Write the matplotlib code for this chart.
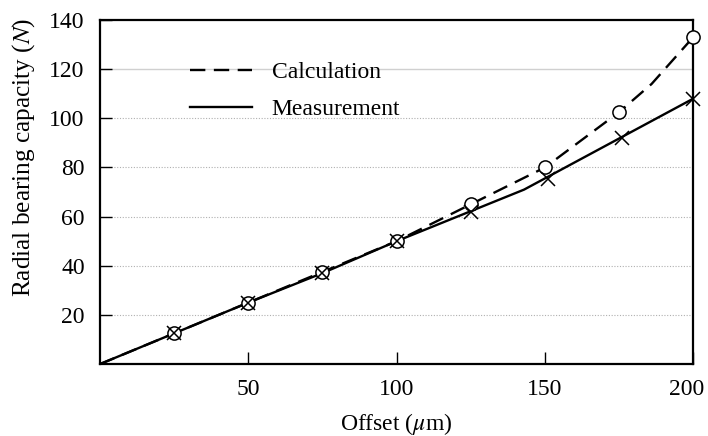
import matplotlib
matplotlib.use("Agg")
import matplotlib.pyplot as plt
import matplotlib.transforms as mtransforms

plt.rcParams['font.family'] = ['Liberation Serif', 'DejaVu Serif']
plt.rcParams['mathtext.fontset'] = 'stix'

# curve data (line traces)
calc_line_x = [0, 25, 50, 75, 100, 125, 150, 175, 186, 200]
calc_line_y = [0, 12.5, 25, 37.5, 50, 65, 80, 102.5, 114, 133]
meas_line_x = [0, 25, 50, 75, 100, 143, 200]
meas_line_y = [0, 12.5, 25, 37, 50, 71, 108]

# marker data
calc_pts_x = [25, 50, 75, 100, 125, 150, 175, 200]
calc_pts_y = [12.5, 25, 37.5, 50, 65, 80, 102.5, 133]
meas_pts_x = [25, 50, 75, 100, 125, 151, 176, 200]
meas_pts_y = [12.5, 25, 37, 50, 62, 75.5, 92, 108]

xticks = [50, 100, 150, 200]
yticks = [20, 40, 60, 80, 100, 120, 140]

fig = plt.figure(figsize=(7.08, 4.36), dpi=100)
ax = fig.add_axes([0.1412, 0.165, 0.8378, 0.789])

for y in yticks[:-1]:
    if y == 120:
        ax.axhline(y, color='#d0d0d0', lw=1.0, zorder=0)
    else:
        ax.axhline(y, color='#b0b0b0', lw=0.8, ls=(0, (1, 1.5)), zorder=0)

ax.plot(calc_line_x, calc_line_y, color='black', lw=1.7, ls=(0, (6.5, 3.6)),
        label='Calculation')
ax.plot(meas_line_x, meas_line_y, color='black', lw=1.7, ls='-',
        label='Measurement')
ax.plot(calc_pts_x, calc_pts_y, ls='none', marker='o', ms=9.5, mfc='white',
        mec='black', mew=1.1, zorder=3, clip_on=False)
ax.plot(meas_pts_x, meas_pts_y, ls='none', marker='x', ms=10, mec='black',
        mew=1.1, zorder=4, clip_on=False)

ax.set_xlim(0, 200)
ax.set_ylim(0, 140)
ax.set_xticks(xticks)
ax.set_yticks(yticks)
ax.tick_params(direction='in', length=8.5, width=1, labelsize=17, pad=11)
for s in ax.spines.values():
    s.set_linewidth(1.6)

# last x label sits a little left so it stays inside the figure
last = ax.get_xticklabels()[-1]
last.set_transform(last.get_transform() +
                   mtransforms.ScaledTranslation(-7 / 100, 0, fig.dpi_scale_trans))

ax.set_xlabel(r'Offset ($\mu$m)', fontsize=17, labelpad=8)
ax.set_ylabel(r'Radial bearing capacity ($N$)', fontsize=18.2)
ax.yaxis.set_label_coords(-0.106, 0.6)

ax.legend(loc='upper left', bbox_to_anchor=(0.152, 0.88), frameon=False,
          fontsize=17, handlelength=2.6, handletextpad=0.85, labelspacing=0.67,
          borderpad=0, borderaxespad=0)

fig.savefig('out.png', dpi=100)
